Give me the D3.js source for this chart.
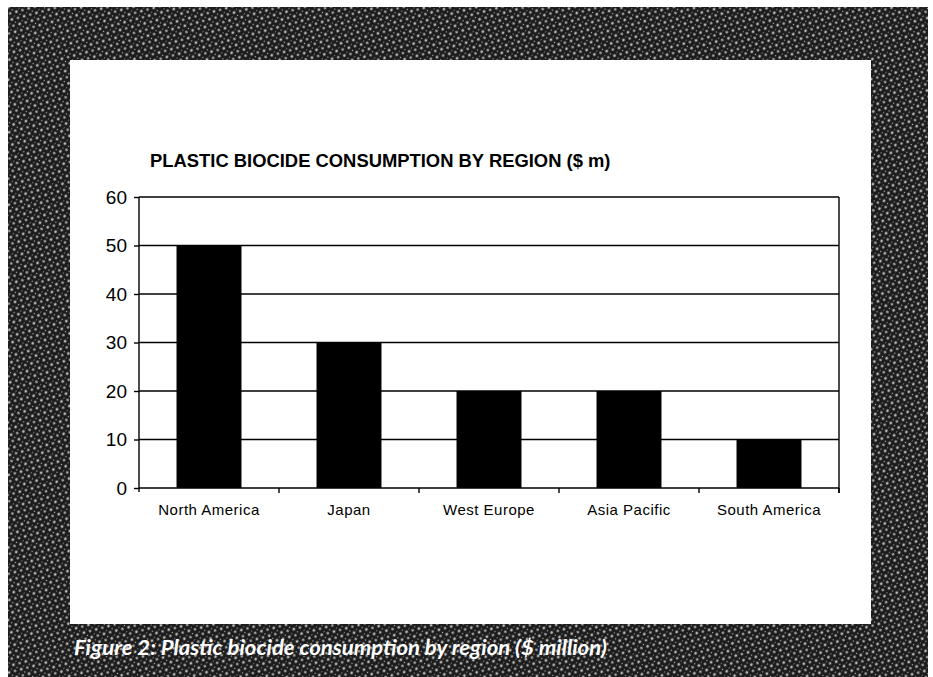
<!DOCTYPE html>
<html lang="en">
  <head>
    <meta charset="UTF-8" />
    <title>Plastic biocide consumption by region</title>
    <script src="https://d3js.org/d3.v7.min.js"></script>
    <style>
      body {
        margin: 0;
        background: #fff;
      }
      .tick-label {
        font-family: "Liberation Sans", Arial, sans-serif;
        fill: #000;
      }
      .grid {
        stroke: #000;
        stroke-width: 1.4;
      }
    </style>
  </head>
  <body>
    <svg width="933" height="677" id="chart"></svg>

    <script>
      // values
      const regions = [
        "North America",
        "Japan",
        "West Europe",
        "Asia Pacific",
        "South America",
      ];
      const consumption = [50, 30, 20, 20, 10];
      const yTicks = [0, 10, 20, 30, 40, 50, 60];

      const svg = d3.select("#chart");
      const width = +svg.attr("width");
      const height = +svg.attr("height");

      // halftone-ish frame texture
      const defs = svg.append("defs");
      const pat = defs
        .append("pattern")
        .attr("id", "halftone")
        .attr("width", 9)
        .attr("height", 9)
        .attr("patternUnits", "userSpaceOnUse")
        .attr("patternTransform", "rotate(30)");
      pat.append("rect").attr("width", 9).attr("height", 9).attr("fill", "#1c1c1c");
      [
        [2, 2, 1.4],
        [6.5, 6.5, 1.2],
        [6.5, 2.5, 0.7],
        [2.5, 6.8, 0.6],
      ].forEach(([cx, cy, r]) => {
        pat
          .append("circle")
          .attr("cx", cx)
          .attr("cy", cy)
          .attr("r", r)
          .attr("fill", "#b8b8b8");
      });

      svg
        .append("rect")
        .attr("x", 8)
        .attr("y", 7)
        .attr("width", 920)
        .attr("height", height - 7)
        .attr("fill", "url(#halftone)");

      // white panel
      svg
        .append("rect")
        .attr("x", 70)
        .attr("y", 60)
        .attr("width", 801)
        .attr("height", 564)
        .attr("fill", "#fff");

      const margins = { top: 197, right: 94, bottom: 189, left: 139 };
      const chartWidth = width - margins.left - margins.right;
      const chartHeight = height - margins.top - margins.bottom;

      const chartArea = svg
        .append("g")
        .attr("transform", `translate(${margins.left},${margins.top})`);

      const xScale = d3
        .scaleBand()
        .domain(regions)
        .range([0, chartWidth])
        .paddingInner(0.536)
        .paddingOuter(0.268);

      const yScale = d3.scaleLinear().domain([0, 60]).range([chartHeight, 0]);

      // horizontal gridlines
      const yGrid = d3.axisLeft(yScale).tickValues(yTicks).tickSize(5).tickFormat("");
      chartArea
        .append("g")
        .call(yGrid)
        .call((g) => g.select(".domain").remove())
        .selectAll(".tick line")
        .attr("class", "grid");
      chartArea
        .selectAll(".hline")
        .data(yTicks)
        .join("line")
        .attr("class", "grid")
        .attr("x1", 0)
        .attr("x2", chartWidth)
        .attr("y1", (d) => yScale(d))
        .attr("y2", (d) => yScale(d));

      // left axis and right border
      chartArea
        .append("line")
        .attr("class", "grid")
        .attr("x1", 0)
        .attr("x2", 0)
        .attr("y1", 0)
        .attr("y2", chartHeight + 4);
      chartArea
        .append("line")
        .attr("class", "grid")
        .attr("x1", chartWidth)
        .attr("x2", chartWidth)
        .attr("y1", 0)
        .attr("y2", chartHeight + 5);

      // y tick labels
      chartArea
        .selectAll(".ylab")
        .data(yTicks)
        .join("text")
        .attr("class", "tick-label")
        .attr("x", -12)
        .attr("y", (d) => yScale(d))
        .attr("dy", "0.36em")
        .attr("text-anchor", "end")
        .attr("font-size", 19)
        .text((d) => d);

      // bars
      chartArea
        .selectAll(".bar")
        .data(consumption)
        .join("rect")
        .attr("x", (d, i) => xScale(regions[i]))
        .attr("y", (d) => yScale(d))
        .attr("width", xScale.bandwidth())
        .attr("height", (d) => chartHeight - yScale(d))
        .attr("fill", "#000");

      // category ticks between bars
      const step = xScale.step();
      chartArea
        .selectAll(".xtick")
        .data(regions)
        .join("line")
        .attr("class", "grid")
        .attr("x1", (d) => xScale(d) + xScale.bandwidth() / 2 + step / 2)
        .attr("x2", (d) => xScale(d) + xScale.bandwidth() / 2 + step / 2)
        .attr("y1", chartHeight)
        .attr("y2", chartHeight + 5);

      // category labels
      chartArea
        .selectAll(".xlab")
        .data(regions)
        .join("text")
        .attr("class", "tick-label")
        .attr("x", (d) => xScale(d) + xScale.bandwidth() / 2)
        .attr("y", chartHeight + 27)
        .attr("text-anchor", "middle")
        .attr("font-size", 15)
        .attr("letter-spacing", 0.5)
        .text((d) => d);

      // chart title
      svg
        .append("text")
        .attr("x", 150)
        .attr("y", 167)
        .attr("font-family", "'Liberation Sans', Arial, sans-serif")
        .attr("font-weight", "bold")
        .attr("font-size", 18.4)
        .text("PLASTIC BIOCIDE CONSUMPTION BY REGION ($ m)");

      // figure caption
      svg
        .append("text")
        .attr("x", 74)
        .attr("y", 655)
        .attr("font-family", "Lato, 'Open Sans', sans-serif")
        .attr("font-style", "italic")
        .attr("font-weight", "bold")
        .attr("font-size", 20)
        .attr("fill", "#fff")
        .attr("textLength", 533)
        .attr("lengthAdjust", "spacingAndGlyphs")
        .text("Figure 2: Plastic biocide consumption by region ($ million)");
    </script>
  </body>
</html>
